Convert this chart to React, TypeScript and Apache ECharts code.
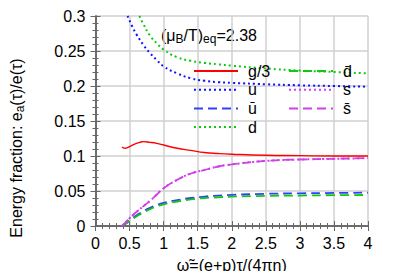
import React, { useEffect, useRef } from "react";
import * as echarts from "echarts";

const xTicks = { min: 0, max: 4, interval: 0.5 };
const yTicks = { min: 0, max: 0.3, interval: 0.05 };

const gX = [0.39, 0.41, 0.43, 0.46, 0.5, 0.55, 0.6, 0.65, 0.7, 0.8, 0.9, 1.0, 1.2, 1.4, 1.6, 1.8, 2.0, 2.5, 3.0, 3.5, 4.0];
const gY = [0.113, 0.1115, 0.111, 0.1115, 0.1135, 0.116, 0.118, 0.1195, 0.1205, 0.1195, 0.118, 0.1157, 0.111, 0.108, 0.105, 0.1035, 0.1025, 0.101, 0.1005, 0.1, 0.1];

const uX = [0.47, 0.55, 0.6, 0.7, 0.8, 0.9, 1.0, 1.2, 1.4, 1.6, 1.8, 2.0, 2.5, 3.0, 3.5, 4.0];
const uY = [0.3, 0.283, 0.274, 0.259, 0.247, 0.237, 0.228, 0.218, 0.211, 0.2075, 0.2055, 0.2045, 0.2025, 0.201, 0.2, 0.199];

const dX = [0.645, 0.7, 0.8, 0.9, 1.0, 1.2, 1.4, 1.6, 1.8, 2.0, 2.5, 3.0, 3.5, 4.0];
const dY = [0.3, 0.289, 0.272, 0.261, 0.252, 0.241, 0.236, 0.233, 0.231, 0.229, 0.225, 0.222, 0.22, 0.218];

const antiX = [0.39, 0.45, 0.5, 0.6, 0.7, 0.8, 0.9, 1.0, 1.2, 1.4, 1.6, 1.8, 2.0, 2.5, 3.0, 3.5, 4.0];
const ubarY = [0, 0.004, 0.008, 0.015, 0.021, 0.026, 0.03, 0.033, 0.037, 0.04, 0.042, 0.0435, 0.0445, 0.046, 0.0467, 0.0472, 0.0476];
const dbarY = [0, 0.0035, 0.007, 0.0135, 0.019, 0.024, 0.028, 0.031, 0.035, 0.038, 0.04, 0.041, 0.042, 0.043, 0.0435, 0.044, 0.0443];
const sY = [0, 0.006, 0.011, 0.02, 0.028, 0.036, 0.045, 0.054, 0.066, 0.075, 0.08, 0.085, 0.088, 0.093, 0.095, 0.096, 0.097];
const sbarY = [0, 0.006, 0.011, 0.02, 0.028, 0.036, 0.045, 0.054, 0.066, 0.075, 0.08, 0.085, 0.088, 0.093, 0.095, 0.096, 0.097];

const legendLeft = ["g/3", "u", "ū", "d"];
const legendRight = ["d̄", "s", "s̄"];

const zip = (xs: number[], ys: number[]) => xs.map((x, i) => [x, ys[i]]);

const FONT = "Liberation Sans";
const FS = 16;
const RED = "#ff0000";
const BLUE = "#1010ff";
const BLUE_D = "#3040ff";
const GREEN = "#10c810";
const MAG = "#d040e8";

function line(name: string, data: number[][], color: string, type: any, width = 1.6) {
  return {
    name,
    type: "line",
    data,
    smooth: true,
    showSymbol: false,
    symbol: "none",
    color,
    lineStyle: { color, width, type },
  };
}

export default function App() {
  const ref = useRef<HTMLDivElement>(null);
  useEffect(() => {
    const chart = echarts.init(ref.current!, null, { renderer: "svg" });
    const axisLine = { show: true, lineStyle: { color: "#666", width: 1.5 } };
    const tick = { inside: true, length: 5, lineStyle: { color: "#666" } };
    const minor = { show: true, splitNumber: 5, length: 3, lineStyle: { color: "#666" } };
    const legendCommon = {
      orient: "vertical",
      top: 58,
      itemWidth: 44,
      itemHeight: 14,
      itemGap: 2.7,
      itemStyle: { opacity: 0 },
      textStyle: { fontSize: FS, fontFamily: FONT, color: "#000", lineHeight: 14, padding: [0, 0, 0, 5] },
    };
    const option: any = {
      animation: false,
      textStyle: { fontFamily: FONT },
      grid: { left: 92, right: 31, top: 16, bottom: 53 },
      xAxis: [
        {
          type: "value",
          ...xTicks,
          axisLine,
          axisTick: tick,
          minorTick: minor,
          splitLine: { show: true, lineStyle: { color: "#d0d0d0", width: 1.5 } },
          axisLabel: { color: "#000", fontSize: FS, margin: 9, fontFamily: FONT },
          name: "ω̃=(e+p)τ/(4πη)",
          nameLocation: "middle",
          nameGap: 31,
          nameTextStyle: { color: "#000", fontSize: FS, fontFamily: FONT },
        },
        {
          type: "value",
          position: "top",
          ...xTicks,
          axisLine,
          axisTick: tick,
          minorTick: minor,
          splitLine: { show: false },
          axisLabel: { show: false },
        },
      ],
      yAxis: [
        {
          type: "value",
          ...yTicks,
          axisLine,
          axisTick: tick,
          minorTick: minor,
          splitLine: { show: true, lineStyle: { color: "#d0d0d0", width: 1.5 } },
          axisLabel: { color: "#000", fontSize: FS, margin: 10, fontFamily: FONT },
          name: "{n|Energy fraction: e}{sub|a}{n|(τ)/e(τ)}",
          nameLocation: "middle",
          nameGap: 70,
          nameRotate: 90,
          nameTextStyle: {
            color: "#000",
            fontSize: FS,
            fontFamily: FONT,
            padding: [0, 54, 0, 0],
            rich: {
              n: { fontSize: FS, fontFamily: FONT, color: "#000" },
              sub: { fontSize: 12, fontFamily: FONT, color: "#000", padding: [7, 0, 0, 0] },
            },
          },
        },
        {
          type: "value",
          position: "right",
          ...yTicks,
          axisLine,
          axisTick: tick,
          minorTick: minor,
          splitLine: { show: false },
          axisLabel: { show: false },
        },
      ],
      legend: [
        { ...legendCommon, data: legendLeft, left: 188 },
        { ...legendCommon, data: legendRight, left: 283 },
      ],
      graphic: [
        {
          type: "text",
          left: 161,
          top: 27,
          style: {
            text: "{n|(μ}{sub|B}{n|/T)}{sub|eq}{n|=2.38}",
            fontSize: FS,
            fontFamily: FONT,
            fill: "#000",
            rich: {
              n: { fontSize: FS, fontFamily: FONT, fill: "#000" },
              sub: { fontSize: 12, fontFamily: FONT, fill: "#000", padding: [8, 0, 0, 0] },
            },
          },
        },
      ],
      series: [
        line("g/3", zip(gX, gY), RED, "solid", 1.4),
        line("u", zip(uX, uY), BLUE, [2, 3], 2),
        line("ū", zip(antiX, ubarY), BLUE_D, [9, 5], 1.8),
        line("d", zip(dX, dY), GREEN, [2, 3], 2),
        line("d̄", zip(antiX, dbarY), GREEN, [9, 5], 1.8),
        line("s", zip(antiX, sY), MAG, [2, 3], 2),
        line("s̄", zip(antiX, sbarY), MAG, [9, 5], 1.8),
      ],
    };
    chart.setOption(option);
    return () => chart.dispose();
  }, []);
  return <div ref={ref} style={{ width: 399, height: 279, margin: -8 }} />;
}
